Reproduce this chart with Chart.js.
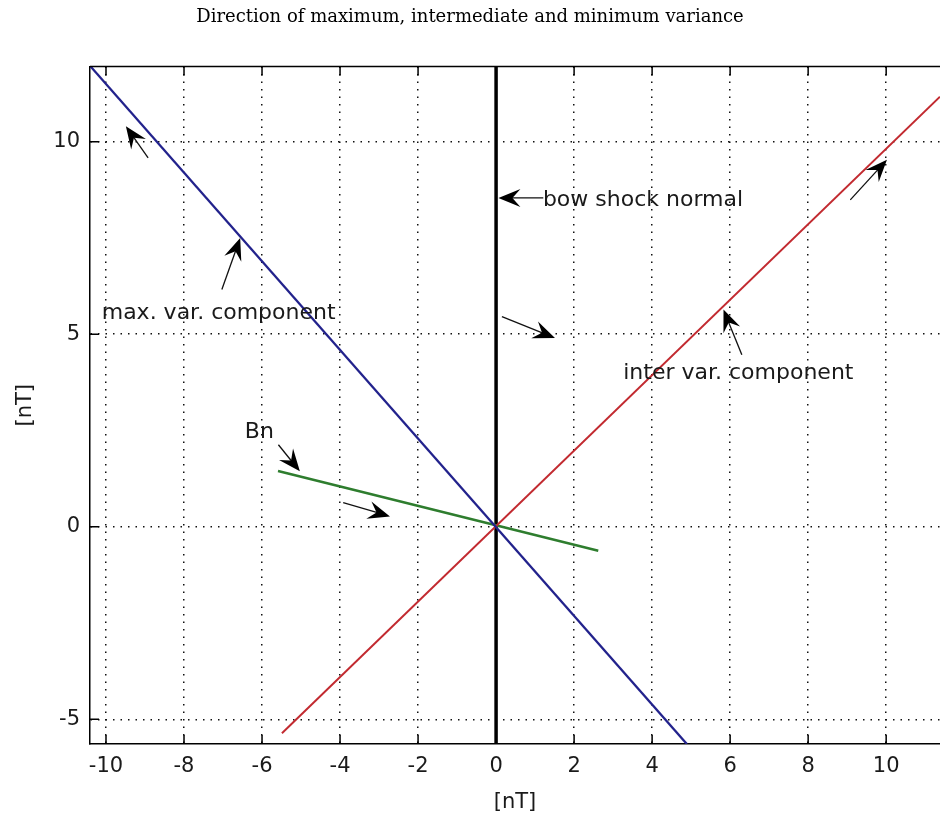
<!DOCTYPE html>
<html>
<head>
<meta charset="utf-8">
<script src="https://cdn.jsdelivr.net/npm/chart.js@4/dist/chart.umd.min.js"></script>
<style>
  body { margin: 0; background: #fff; }
  #wrap { width: 940px; height: 817px; }
</style>
</head>
<body>
<div id="wrap"><canvas id="variance_plot"></canvas></div>
<script>
// line end points, in nT
var max_var_x = [-10.41, 4.89]
var max_var_y = [11.97, -5.64]
var inter_var_x = [-5.49, 11.38]
var inter_var_y = [-5.36, 11.17]
var bn_x = [-5.59, 2.62]
var bn_y = [1.45, -0.62]
var normal_x = [0, 0]
var normal_y = [-5.64, 12]

var x_ticks = [-10, -8, -6, -4, -2, 0, 2, 4, 6, 8, 10]
var y_ticks = [-5, 0, 5, 10]

// annotation arrows, tail -> head
var arrow_tail_x = [-8.92, -7.03, 1.21, 0.15, 6.30, 9.08, -5.58, -3.92]
var arrow_tail_y = [9.58, 6.16, 8.54, 5.46, 4.47, 8.49, 2.13, 0.63]
var arrow_head_x = [-9.49, -6.56, 0.06, 1.51, 5.83, 10.02, -5.03, -2.72]
var arrow_head_y = [10.40, 7.50, 8.54, 4.90, 5.64, 9.53, 1.44, 0.27]

// text labels (left edge, baseline)
var label_text = ['bow shock normal', 'max. var. component', 'inter var. component', 'Bn']
var label_x = [1.20, -10.11, 3.26, -6.44]
var label_y = [8.34, 5.40, 3.84, 2.31]

function createData(xValues, yValues) {
    return xValues.map((x, index) => {
        return { x: x, y: yValues[index] };
    });
}

function drawArrow(ctx, x1, y1, x2, y2) {
    var ang = Math.atan2(y2 - y1, x2 - x1);
    ctx.beginPath();
    ctx.moveTo(x1, y1);
    ctx.lineTo(x2 - Math.cos(ang) * 13, y2 - Math.sin(ang) * 13);
    ctx.lineWidth = 1.3;
    ctx.stroke();
    ctx.save();
    ctx.translate(x2, y2);
    ctx.rotate(ang);
    ctx.beginPath();
    ctx.moveTo(0, 0);
    ctx.lineTo(-22, -9);
    ctx.lineTo(-14, 0);
    ctx.lineTo(-22, 9);
    ctx.closePath();
    ctx.fill();
    ctx.restore();
}

var annotations = {
    id: 'annotations',
    afterDatasetsDraw(chart) {
        var ctx = chart.ctx, a = chart.chartArea;
        var xs = chart.scales.x, ys = chart.scales.y;
        ctx.save();
        // top of the box and inward tick marks
        ctx.strokeStyle = '#000';
        ctx.lineWidth = 1.5;
        ctx.beginPath();
        ctx.moveTo(a.left, a.top);
        ctx.lineTo(a.right, a.top);
        x_ticks.forEach(v => {
            var px = xs.getPixelForValue(v);
            ctx.moveTo(px, a.bottom); ctx.lineTo(px, a.bottom - 9);
            ctx.moveTo(px, a.top); ctx.lineTo(px, a.top + 9);
        });
        y_ticks.forEach(v => {
            var py = ys.getPixelForValue(v);
            ctx.moveTo(a.left, py); ctx.lineTo(a.left + 9, py);
        });
        ctx.stroke();

        ctx.fillStyle = '#000';
        ctx.strokeStyle = '#111';
        for (var i = 0; i < arrow_tail_x.length; i++) {
            drawArrow(ctx,
                xs.getPixelForValue(arrow_tail_x[i]), ys.getPixelForValue(arrow_tail_y[i]),
                xs.getPixelForValue(arrow_head_x[i]), ys.getPixelForValue(arrow_head_y[i]));
        }

        ctx.fillStyle = '#1a1a1a';
        ctx.font = '22px "DejaVu Sans"';
        ctx.textAlign = 'left';
        ctx.textBaseline = 'alphabetic';
        for (var j = 0; j < label_text.length; j++) {
            ctx.fillText(label_text[j], xs.getPixelForValue(label_x[j]), ys.getPixelForValue(label_y[j]));
        }
        ctx.restore();
    }
};

var tick_font = { family: 'DejaVu Sans', size: 21 };

var variance_plot = document.getElementById('variance_plot').getContext('2d');
var varianceChart = new Chart(variance_plot, {
    type: 'scatter',
    data: {
        datasets: [{
            data: createData(max_var_x, max_var_y),
            borderColor: '#22228c',
            borderWidth: 2.3
        }, {
            data: createData(inter_var_x, inter_var_y),
            borderColor: '#c22a30',
            borderWidth: 2
        }, {
            data: createData(bn_x, bn_y),
            borderColor: '#2e7d2e',
            borderWidth: 2.5
        }, {
            data: createData(normal_x, normal_y),
            borderColor: '#000',
            borderWidth: 3.5
        }]
    },
    options: {
        responsive: true,
        maintainAspectRatio: false,
        animation: false,
        events: [],
        showLine: true,
        elements: { point: { radius: 0 }, line: { tension: 0 } },
        layout: { padding: 0 },
        scales: {
            x: {
                type: 'linear',
                min: -10.41,
                max: 11.38,
                afterBuildTicks: s => { s.ticks = x_ticks.map(v => ({ value: v })); },
                afterFit: s => { s.height = 73; },
                grid: { color: '#111', lineWidth: 1.5, drawTicks: false },
                border: { display: true, color: '#000', width: 1.5, dash: [1.5, 6] },
                ticks: { padding: 10, color: '#1a1a1a', font: tick_font, maxRotation: 0 },
                title: {
                    display: true,
                    text: '[nT]',
                    color: '#1a1a1a',
                    font: tick_font,
                    padding: { top: 0, bottom: 2 }
                }
            },
            y: {
                type: 'linear',
                min: -5.64,
                max: 11.95,
                afterBuildTicks: s => { s.ticks = y_ticks.map(v => ({ value: v })); },
                afterFit: s => { s.width = 90; },
                grid: { color: '#111', lineWidth: 1.5, drawTicks: false },
                border: { display: true, color: '#000', width: 1.5, dash: [1.5, 6] },
                ticks: { padding: 10, color: '#1a1a1a', font: tick_font },
                title: {
                    display: true,
                    text: '[nT]',
                    color: '#1a1a1a',
                    font: tick_font,
                    padding: { top: 13, bottom: 0 }
                }
            }
        },
        plugins: {
            legend: { display: false },
            tooltip: { enabled: false },
            title: {
                display: true,
                text: 'Direction of maximum, intermediate and minimum variance',
                color: '#000',
                font: { family: 'DejaVu Serif', size: 18, weight: 'normal' },
                padding: { top: 7, bottom: 38 }
            }
        }
    },
    plugins: [annotations]
});
</script>
</body>
</html>
